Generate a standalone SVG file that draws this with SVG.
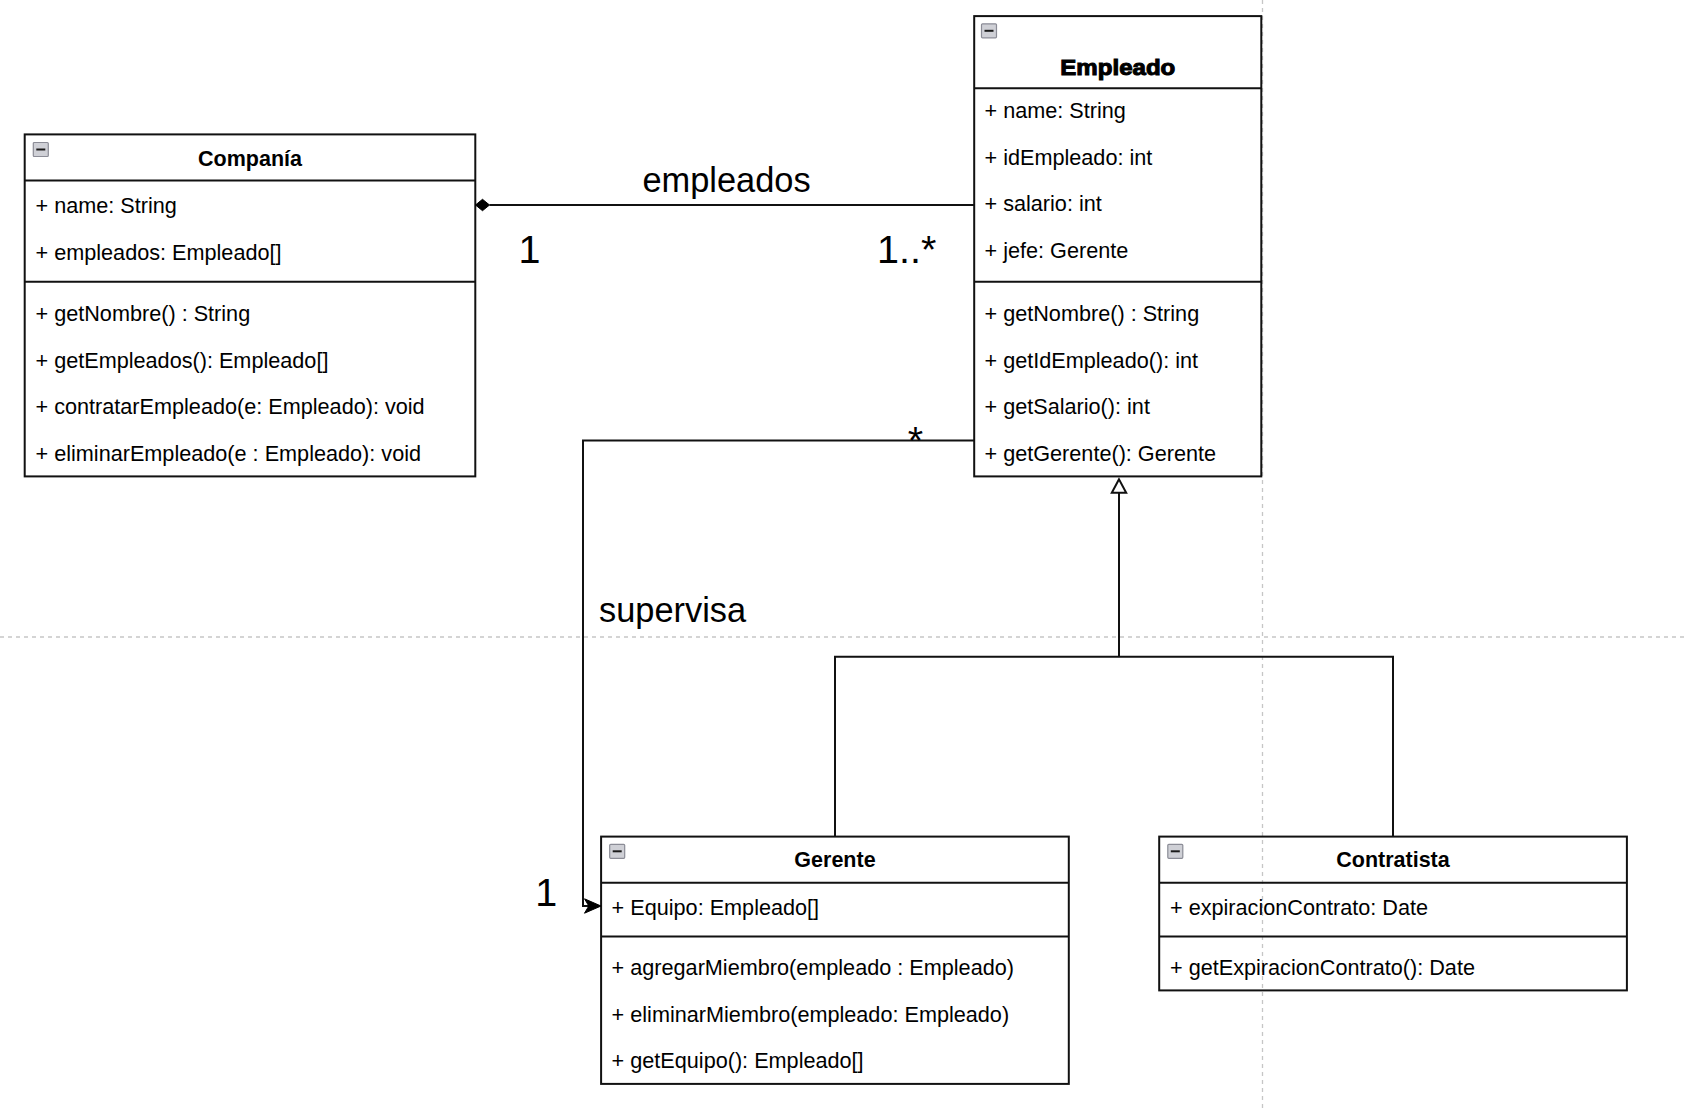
<svg xmlns="http://www.w3.org/2000/svg" width="1686" height="1112" viewBox="0 0 1686 1112">
  <defs>
    <style>
      text { font-family: "Liberation Sans", Arial, Helvetica, sans-serif; fill: #000; }
      .row { font-size: 21.65px; }
      .title { font-size: 21.5px; font-weight: bold; text-anchor: middle; }
      .box { fill: none; stroke: #111; stroke-width: 2; }
      .sep { stroke: #111; stroke-width: 2; }
      .guide { stroke: #c6c6c6; stroke-width: 1.3; stroke-dasharray: 4 4; fill: none; }
      .edge { fill: none; stroke: #111; stroke-width: 2; }
      .lbl { font-size: 34.4px; }
      .mult { font-size: 39.5px; }
      .toggle rect { fill: #cfd0d6; stroke: #8b8c96; stroke-width: 1.2; }
      .toggle line { stroke: #1a1a1a; stroke-width: 2; }
    </style>
    <g id="toggle" class="toggle">
      <rect x="0" y="0" width="15" height="14" rx="1"/>
      <line x1="3" y1="7" x2="12" y2="7"/>
    </g>
  </defs>

  <rect width="1686" height="1112" fill="#fff"/>

  <!-- page break guides -->
  <g id="guides">
    <line class="guide" x1="1262.5" y1="0" x2="1262.5" y2="1112"/>
    <line class="guide" x1="0" y1="637" x2="1686" y2="637"/>
  </g>

  <!-- Compania -->
  <g id="compania">
    <rect class="box" x="24.7" y="134.4" width="450.6" height="342"/>
    <line class="sep" x1="24.7" y1="180.6" x2="475.3" y2="180.6"/>
    <line class="sep" x1="24.7" y1="281.7" x2="475.3" y2="281.7"/>
    <use href="#toggle" x="33.3" y="142.5"/>
    <text class="title" x="250" y="165.6">Companía</text>
    <text class="row" x="35.5" y="213">+ name: String</text>
    <text class="row" x="35.5" y="259.5">+ empleados: Empleado[]</text>
    <text class="row" x="35.5" y="321">+ getNombre() : String</text>
    <text class="row" x="35.5" y="367.5">+ getEmpleados(): Empleado[]</text>
    <text class="row" x="35.5" y="414">+ contratarEmpleado(e: Empleado): void</text>
    <text class="row" x="35.5" y="460.5">+ eliminarEmpleado(e : Empleado): void</text>
  </g>

  <!-- Empleado -->
  <g id="empleado">
    <rect class="box" x="974.2" y="16.1" width="287.1" height="460.3"/>
    <line class="sep" x1="974.2" y1="88.2" x2="1261.3" y2="88.2"/>
    <line class="sep" x1="974.2" y1="281.7" x2="1261.3" y2="281.7"/>
    <use href="#toggle" x="981.5" y="23.8"/>
    <text class="title" x="1117.8" y="74.5" stroke="#000" stroke-width="1" textLength="115" lengthAdjust="spacingAndGlyphs">Empleado</text>
    <text class="row" x="984.5" y="118">+ name: String</text>
    <text class="row" x="984.5" y="164.5">+ idEmpleado: int</text>
    <text class="row" x="984.5" y="211">+ salario: int</text>
    <text class="row" x="984.5" y="257.5">+ jefe: Gerente</text>
    <text class="row" x="984.5" y="321">+ getNombre() : String</text>
    <text class="row" x="984.5" y="367.5">+ getIdEmpleado(): int</text>
    <text class="row" x="984.5" y="414">+ getSalario(): int</text>
    <text class="row" x="984.5" y="460.5">+ getGerente(): Gerente</text>
  </g>

  <!-- Gerente -->
  <g id="gerente">
    <rect class="box" x="601.1" y="836.6" width="467.7" height="247.3"/>
    <line class="sep" x1="601.1" y1="882.8" x2="1068.8" y2="882.8"/>
    <line class="sep" x1="601.1" y1="936.6" x2="1068.8" y2="936.6"/>
    <use href="#toggle" x="609.7" y="844.3"/>
    <text class="title" x="835" y="867">Gerente</text>
    <text class="row" x="611.6" y="915">+ Equipo: Empleado[]</text>
    <text class="row" x="611.6" y="975">+ agregarMiembro(empleado : Empleado)</text>
    <text class="row" x="611.6" y="1021.5">+ eliminarMiembro(empleado: Empleado)</text>
    <text class="row" x="611.6" y="1068">+ getEquipo(): Empleado[]</text>
  </g>

  <!-- Contratista -->
  <g id="contratista">
    <rect class="box" x="1159.2" y="836.6" width="467.7" height="153.8"/>
    <line class="sep" x1="1159.2" y1="882.8" x2="1626.9" y2="882.8"/>
    <line class="sep" x1="1159.2" y1="936.6" x2="1626.9" y2="936.6"/>
    <use href="#toggle" x="1167.8" y="844.3"/>
    <text class="title" x="1393" y="867">Contratista</text>
    <text class="row" x="1170" y="915">+ expiracionContrato: Date</text>
    <text class="row" x="1170" y="975">+ getExpiracionContrato(): Date</text>
  </g>

  <!-- connectors -->
  <g id="connectors">
    <!-- composition Compania -> Empleado -->
    <line class="edge" x1="489.5" y1="205" x2="974.2" y2="205"/>
    <path d="M475.5,205 L482.5,199.3 L489.5,205 L482.5,210.7 Z" fill="#000" stroke="#000" stroke-width="1"/>
    <text class="lbl" x="726.5" y="192" text-anchor="middle">empleados</text>
    <text class="mult" x="518.5" y="262.5">1</text>
    <text class="mult" x="877" y="262.5">1..*</text>

    <!-- supervisa: Empleado -> Gerente -->
    <path class="edge" d="M974.2,440.5 H583 V906 H590"/>
    <path d="M601,906 L584.5,898.8 L588.8,906 L584.5,913.2 Z" fill="#000" stroke="#000" stroke-width="1"/>
    <text class="mult" x="915.5" y="454" text-anchor="middle">*</text>
    <text class="lbl" x="599" y="621.7">supervisa</text>
    <text class="mult" x="535.3" y="905.5">1</text>

    <!-- generalization Gerente / Contratista -> Empleado -->
    <path class="edge" d="M835,836.6 V656.7 H1393 V836.6 M1119,656.7 V492.7"/>
    <path d="M1119,479.3 L1111.8,492.7 L1126.2,492.7 Z" fill="#fff" stroke="#111" stroke-width="2" stroke-linejoin="miter"/>
  </g>
</svg>
